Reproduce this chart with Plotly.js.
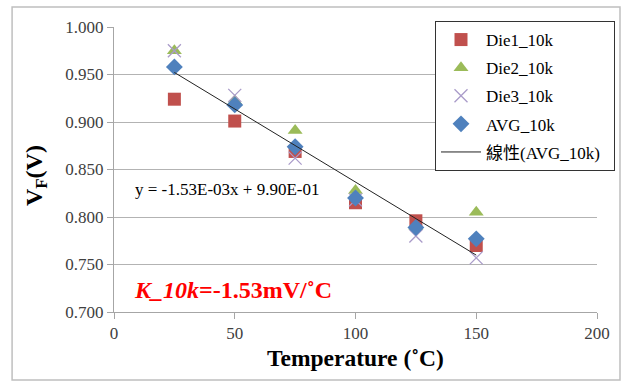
<!DOCTYPE html>
<html>
<head>
<meta charset="utf-8">
<script src="https://cdn.plot.ly/plotly-3.0.1.min.js"></script>
<style>html,body{margin:0;padding:0;background:#fff;}#chart{width:631px;height:381px;}</style>
</head>
<body>
<div id="chart"></div>
<script>
const temps = [25, 50, 75, 100, 125, 150];
const die1 = [0.924, 0.901, 0.869, 0.815, 0.796, 0.770];
const die2 = [0.975, 0.922, 0.891, 0.828, 0.790, 0.805];
const die3 = [0.975, 0.928, 0.862, 0.818, 0.780, 0.757];
const avg  = [0.958, 0.918, 0.874, 0.820, 0.789, 0.777];
const yTicks = [0.700, 0.750, 0.800, 0.850, 0.900, 0.950, 1.000];
const xTicks = [0, 50, 100, 150, 200];

// least-squares trendline through the AVG series
const n = temps.length;
const mx = temps.reduce((a,b)=>a+b,0)/n;
const my = avg.reduce((a,b)=>a+b,0)/n;
let sxy = 0, sxx = 0;
for (let i = 0; i < n; i++) { sxy += (temps[i]-mx)*(avg[i]-my); sxx += (temps[i]-mx)**2; }
const slope = sxy/sxx, icpt = my - slope*mx;
const trendX = [temps[0], temps[n-1]];
const trendY = trendX.map(x => slope*x + icpt);

const serif = "'Liberation Serif', 'Noto Sans CJK TC', serif";
const traces = [
  {x: temps, y: die1, name: 'Die1_10k', mode: 'markers', type: 'scatter', legendgroup: 'a',
   marker: {symbol: 'square', size: 13, color: '#c0504d'}},
  {x: temps, y: die2, name: 'Die2_10k', mode: 'markers', type: 'scatter', legendgroup: 'b',
   marker: {symbol: 'triangle-up', size: 13, color: '#9bbb59'}},
  {x: temps, y: die3, name: 'Die3_10k', mode: 'markers', type: 'scatter', legendgroup: 'c',
   marker: {symbol: 'x-thin', size: 13, color: '#a99bc9', line: {width: 1.3, color: '#a99bc9'}}},
  {x: temps, y: avg, name: 'AVG_10k', mode: 'markers', type: 'scatter', legendgroup: 'd',
   marker: {symbol: 'diamond', size: 13, color: '#4f81bd'}},
  {x: trendX, y: trendY, name: '線性(AVG_10k)\u00a0\u00a0', mode: 'lines', type: 'scatter', legendgroup: 'e',
   line: {color: '#222', width: 1}}
];

const layout = {
  width: 631, height: 381,
  margin: {l: 114, r: 34, t: 27, b: 69},
  paper_bgcolor: '#fff', plot_bgcolor: '#fff',
  showlegend: true,
  legend: {x: 0.6646, y: 1.021, xanchor: 'left', yanchor: 'top',
           bordercolor: '#333', borderwidth: 1, bgcolor: '#fff', itemwidth: 40,
           font: {family: serif, size: 17, color: '#000'}, tracegroupgap: 3},
  xaxis: {range: [0, 200], tickvals: xTicks, ticktext: xTicks.map(String),
          showgrid: false, zeroline: false, showline: true, linecolor: '#a6a6a6', linewidth: 1,
          ticks: 'outside', ticklen: 6, tickcolor: '#a6a6a6',
          tickfont: {family: serif, size: 17, color: '#404040'}, fixedrange: true},
  yaxis: {range: [0.7, 1.0], tickvals: yTicks, ticktext: yTicks.map(v => v.toFixed(3)),
          showgrid: true, gridcolor: '#b3b3b3', gridwidth: 1, zeroline: false,
          showline: true, linecolor: '#a6a6a6', linewidth: 1,
          ticks: 'outside', ticklen: 6, tickcolor: '#a6a6a6',
          tickfont: {family: serif, size: 17, color: '#404040'}, fixedrange: true},
  shapes: [
    {type: 'rect', xref: 'paper', yref: 'paper', x0: -0.211, x1: 1.0476, y0: -0.2386, y1: 1.07,
     line: {color: '#bfbfbf', width: 1.5}, fillcolor: 'rgba(0,0,0,0)', layer: 'below'}
  ],
  annotations: [
    {xref: 'paper', yref: 'paper', x: 0.501, y: -0.162, xanchor: 'center', yanchor: 'middle',
     text: '<b>Temperature (˚C)</b>', showarrow: false,
     font: {family: serif, size: 23.5, color: '#000'}},
    {xref: 'paper', yref: 'paper', x: -0.163, y: 0.478, xanchor: 'center', yanchor: 'middle',
     text: '<b>V<sub>F</sub>(V)</b>', textangle: -90, showarrow: false,
     font: {family: serif, size: 24, color: '#000'}},
    {xref: 'x', yref: 'y', x: 7.8, y: 0.8285, xanchor: 'left', yanchor: 'middle',
     text: 'y = -1.53E-03x + 9.90E-01', showarrow: false,
     font: {family: serif, size: 17, color: '#000'}},
    {xref: 'x', yref: 'y', x: 7.5, y: 0.7235, xanchor: 'left', yanchor: 'middle',
     text: '<b><i>K_10k</i>=-1.53mV/˚C</b>', showarrow: false,
     font: {family: serif, size: 24, color: '#ff0000'}}
  ]
};
Plotly.newPlot('chart', traces, layout, {displayModeBar: false, staticPlot: true});
</script>
</body>
</html>
